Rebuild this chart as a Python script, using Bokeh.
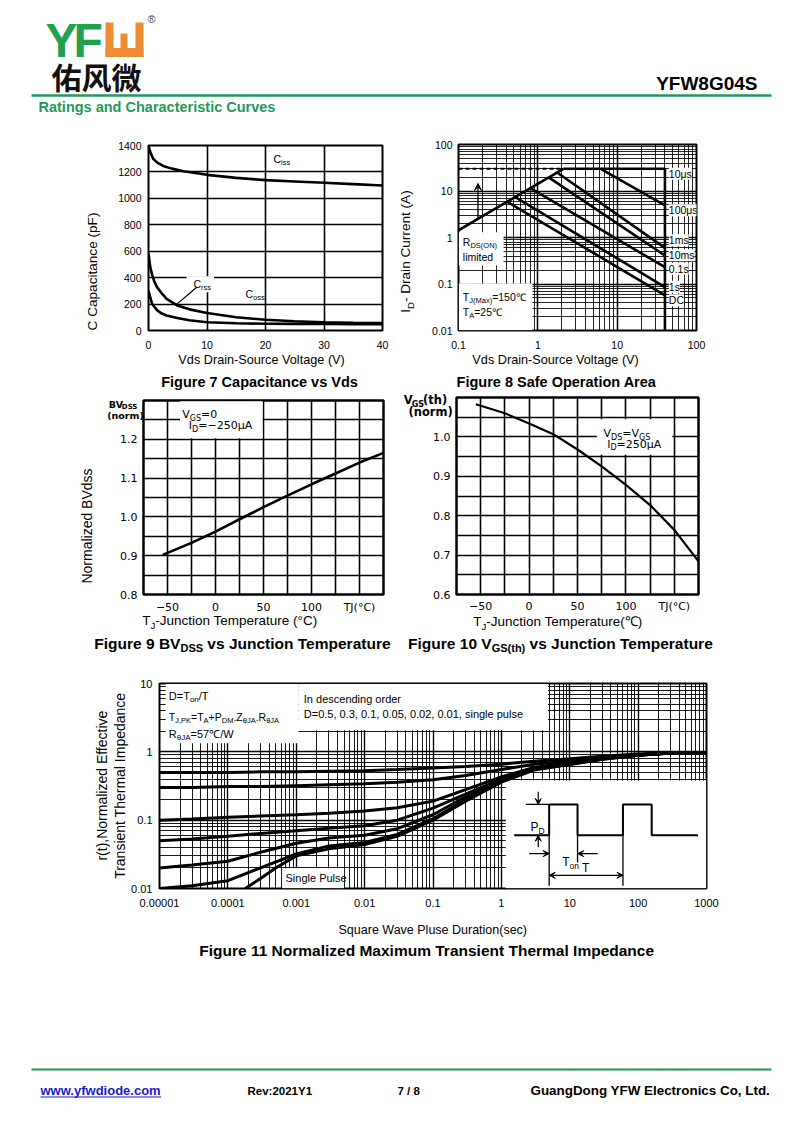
import math
from bokeh.plotting import figure
from bokeh.models import (Range1d, FixedTicker, CustomJSTickFormatter, Label, BoxAnnotation,
                          Arrow, VeeHead, GridBox, Column)
from bokeh.embed import file_html
from bokeh.resources import INLINE

# ---------------- data ----------------
# Figure 7 : capacitance vs Vds
cap_v = [0, 0.3, 0.8, 1.5, 2.5, 4, 6, 10, 15, 20, 25, 30, 35, 40]
ciss = [1400, 1350, 1300, 1270, 1245, 1225, 1205, 1178, 1155, 1138, 1128, 1118, 1108, 1097]
oss_v = [0, 0.3, 0.6, 1.0, 1.5, 2.2, 3.1, 4.9, 7, 10, 15, 20, 25, 30, 35, 40]
coss = [583, 480, 425, 370, 325, 285, 240, 190, 160, 132, 100, 81, 70, 63, 59, 56]
crss = [300, 250, 205, 180, 152, 130, 114, 94, 78, 63, 55, 51, 50, 50, 48, 47]
cap_xticks = [0, 10, 20, 30, 40]
cap_yticks = [0, 200, 400, 600, 800, 1000, 1200, 1400]

# Figure 8 : safe operating area
soa_xticks = [0.1, 1, 10, 100]
soa_yticks = [0.01, 0.1, 1, 10, 100]
id_max = 30
vds_max = 40
rds_v = [0.1, 2.1]
rds_i = [1.43, 30]
soa_v_start = [6.2, 1.75, 1.37, 0.805, 0.52, 0.41]
soa_i_start = [30, 25.0, 19.6, 11.5, 7.4, 5.9]
soa_i_end = [4.9, 0.6, 0.41, 0.23, 0.086, 0.057]
soa_labels = ["10\u03bcs", "100\u03bcs", "1ms", "10ms", "0.1s", "1s", "DC"]

# Figure 9 : BVdss vs Tj
temp_ticks = [-50, 0, 50, 100, 150]
temp_minor = [-75, -25, 25, 75, 125, 175]
bv_t = [-55, -25, 0, 25, 50, 75, 100, 125, 150, 175]
bv = [0.902, 0.933, 0.962, 0.994, 1.025, 1.055, 1.084, 1.112, 1.140, 1.165]
bv_ticks = [0.8, 0.9, 1.0, 1.1, 1.2]
bv_minor = [0.85, 0.95, 1.05, 1.15, 1.25, 1.3]

# Figure 10 : Vgs(th) vs Tj
vth_t = [-55, -25, 0, 25, 50, 75, 100, 125, 150, 175]
vth = [1.083, 1.060, 1.034, 1.007, 0.968, 0.925, 0.878, 0.827, 0.764, 0.684]
vth_ticks = [0.6, 0.7, 0.8, 0.9, 1.0]
vth_minor = [0.65, 0.75, 0.85, 0.95, 1.05, 1.1]

# Figure 11 : transient thermal impedance
zth_t = [1e-5, 3e-5, 1e-4, 3e-4, 1e-3, 3e-3, 1e-2, 3e-2, 0.1, 0.3, 1, 3, 10, 30, 100, 300, 1000]
zth_d50 = [0.50, 0.50, 0.50, 0.51, 0.51, 0.52, 0.53, 0.55, 0.58, 0.61, 0.66, 0.73, 0.79, 0.86, 0.93, 0.97, 0.98]
zth_d30 = [0.30, 0.30, 0.31, 0.31, 0.32, 0.33, 0.34, 0.36, 0.39, 0.45, 0.55, 0.66, 0.74, 0.83, 0.91, 0.96, 0.98]
zth_d10 = [0.100, 0.104, 0.110, 0.115, 0.120, 0.126, 0.136, 0.152, 0.190, 0.28, 0.43, 0.59, 0.70, 0.81, 0.90, 0.96, 0.98]
zth_d05 = [0.050, 0.053, 0.058, 0.064, 0.070, 0.076, 0.083, 0.100, 0.150, 0.24, 0.40, 0.57, 0.68, 0.80, 0.90, 0.96, 0.98]
zth_d02 = [0.020, 0.022, 0.025, 0.034, 0.046, 0.055, 0.060, 0.075, 0.120, 0.22, 0.38, 0.56, 0.67, 0.79, 0.89, 0.96, 0.98]
zth_d01 = [0.010, 0.011, 0.013, 0.020, 0.032, 0.042, 0.047, 0.062, 0.105, 0.20, 0.37, 0.55, 0.66, 0.78, 0.89, 0.96, 0.98]
zth_sp_t = [1.8e-4, 3e-4, 5e-4, 1e-3, 3e-3, 1e-2, 3e-2, 0.1, 0.3, 1, 3, 10, 30, 100, 300, 1000]
zth_sp = [0.010, 0.014, 0.020, 0.030, 0.038, 0.044, 0.058, 0.100, 0.19, 0.36, 0.54, 0.65, 0.78, 0.89, 0.96, 0.98]
zth_xticks = [1e-5, 1e-4, 1e-3, 1e-2, 0.1, 1, 10, 100, 1000]
zth_yticks = [0.01, 0.1, 1, 10]
# inset pulse sketch (in the chart's own t / r units)
pulse_t = [1.54, 5, 5, 13, 13, 60, 60, 158, 158, 750]
pulse_r = [0.06, 0.06, 0.17, 0.17, 0.06, 0.06, 0.17, 0.17, 0.06, 0.06]
mark_t0 = [5, 13, 60, 2.28]
mark_t1 = [5, 13, 60, 5]
mark_r0 = [0.06, 0.06, 0.06, 0.17]
mark_r1 = [0.011, 0.024, 0.011, 0.17]

GREEN = "#22995a"
LOGO_GREEN = "#1fa14d"
ORANGE = "#ee8c34"
SANS = "Liberation Sans"
DJV = "DejaVu Sans"

# ---------------- text width tables (per 1000 em) ----------------
AR = {' ': 278, '(': 333, ')': 333, ',': 278, '-': 333, '.': 278, '/': 278, ':': 278, '=': 584, '+': 584,
      '\u00b0': 400, '\u2103': 1000, '\u03bc': 576, '\u03b8': 556, '\u2212': 584,
      'A': 667, 'B': 667, 'C': 722, 'D': 722, 'E': 667, 'F': 611, 'G': 778, 'H': 722, 'I': 278, 'J': 500,
      'K': 667, 'L': 556, 'M': 833, 'N': 722, 'O': 778, 'P': 667, 'Q': 778, 'R': 722, 'S': 667, 'T': 611,
      'U': 722, 'V': 667, 'W': 944, 'X': 667, 'Y': 667, 'Z': 611,
      'a': 556, 'b': 556, 'c': 500, 'd': 556, 'e': 556, 'f': 278, 'g': 556, 'h': 556, 'i': 222, 'j': 222,
      'k': 500, 'l': 222, 'm': 833, 'n': 556, 'o': 556, 'p': 556, 'q': 556, 'r': 333, 's': 500, 't': 278,
      'u': 556, 'v': 500, 'w': 722, 'x': 500, 'y': 500, 'z': 500}
ARB = dict(AR)
ARB.update({':': 333, 'A': 722, 'B': 722, 'J': 556, 'K': 722, 'L': 611, 'b': 611, 'c': 556, 'd': 611,
            'f': 333, 'g': 611, 'h': 611, 'i': 278, 'j': 278, 'k': 556, 'l': 278, 'm': 889, 'n': 611,
            'o': 611, 'p': 611, 'q': 611, 'r': 389, 's': 556, 't': 333, 'u': 611, 'v': 556, 'w': 778,
            'x': 556, 'y': 556})
DJ = {' ': 318, '(': 390, ')': 390, '=': 838, '\u2212': 838, '-': 361, '.': 318, ',': 318, '\u00b0': 500,
      '\u03bc': 636, 'A': 684, 'C': 698, 'D': 770, 'G': 775, 'I': 295, 'J': 295, 'S': 635, 'T': 611,
      'V': 684, 'B': 686, 'a': 613, 'h': 634, 'm': 974, 'n': 634, 'o': 612, 'r': 411, 't': 392}
for _d in "0123456789":
    AR[_d] = 556
    ARB[_d] = 556
    DJ[_d] = 636


def tw(text, size, table):
    return sum(table.get(ch, 600) for ch in text) * size / 1000.0


def rich(p, fr, x, y, parts, table=AR, font=SANS, style="normal", color="black",
         align="left", vertical=False, bg=None, units="screen"):
    """Run of text segments (text, size, baseline shift) whose baseline starts at page point x, y."""
    widths = [tw(t, s, table) for t, s, d in parts]
    total = sum(widths)
    pos = {"left": 0.0, "center": -total / 2.0, "right": -total}[align]
    for (t, s, d), w in zip(parts, widths):
        lead = tw(t[:len(t) - len(t.lstrip(" "))], s, table)
        shown = t.strip(" ")
        mid = 0.36 * s
        if vertical:
            px, py = x - d - mid, y - pos - lead
        else:
            px, py = x + pos + lead, y - d - mid
        if units == "screen":
            sx, sy = px - fr[0], fr[3] - py
        else:
            sx, sy = px, py
        kw = dict(x=sx, y=sy, x_units=units, y_units=units, text=shown, text_font=font,
                  text_font_size=f"{s}px", text_font_style=style, text_color=color,
                  text_align="left", text_baseline="middle",
                  angle=(math.pi / 2 if vertical else 0.0))
        if bg:
            kw["background_fill_color"] = bg
        p.add_layout(Label(**kw))
        pos += w


def make_fig(fr, outer, xr, yr, xt="linear", yt="linear"):
    L, T, R, B = fr
    oL, oT, oR, oB = outer
    p = figure(width=oR - oL, height=oB - oT, x_range=xr, y_range=yr, x_axis_type=xt, y_axis_type=yt,
               output_backend="svg", toolbar_location=None, title=None,
               min_border_left=L - oL, min_border_right=oR - R, min_border_top=T - oT,
               min_border_bottom=oB - B)
    p.background_fill_color = "white"
    p.border_fill_alpha = 0.0
    p.outline_line_color = "black"
    p.outline_line_width = 2
    return p, (oT, 0, 0, oL)


def style_axes(p, font, size, xs, ys, xticker, yticker, major_w, minor_w, minor_alpha=1.0):
    p.xaxis.ticker = xticker
    p.yaxis.ticker = yticker
    p.xgrid.ticker = xticker
    p.ygrid.ticker = yticker
    for ax in p.axis:
        ax.axis_line_color = None
        ax.major_tick_line_color = None
        ax.minor_tick_line_color = None
        ax.major_tick_out = 0
        ax.major_tick_in = 0
        ax.minor_tick_out = 0
        ax.minor_tick_in = 0
        ax.major_label_text_font = font
        ax.major_label_text_font_size = size
        ax.major_label_text_color = "black"
    p.xaxis.major_label_standoff = xs
    p.yaxis.major_label_standoff = ys
    for g in (p.xgrid, p.ygrid):
        g.grid_line_color = "black"
        g.grid_line_width = major_w
        g.grid_line_alpha = 1.0
        g.minor_grid_line_color = "black"
        g.minor_grid_line_width = minor_w
        g.minor_grid_line_alpha = minor_alpha


def white_box(p, l, r, b, t):
    p.add_layout(BoxAnnotation(left=l, right=r, bottom=b, top=t, fill_color="white", fill_alpha=1.0,
                               line_color=None, level="underlay"))


def log_minor(k0, k1):
    return [m * 10.0 ** k for k in range(k0, k1) for m in range(2, 10)]


JS_STR = CustomJSTickFormatter(code="return tick.toString();")

# ---------------- page sheet (header, footer, captions, axis titles) ----------------
pg = figure(width=800, height=1120, x_range=Range1d(0, 800), y_range=Range1d(1120, 0),
            x_axis_type=None, y_axis_type=None, toolbar_location=None, output_backend="svg",
            min_border=0, title=None)
pg.outline_line_color = None
pg.background_fill_color = "white"
pg.border_fill_color = "white"


def ptext(x, y, parts, **kw):
    rich(pg, None, x, y, parts, units="data", **kw)


# header
ptext(45, 57, [("Y", 48, 0)], table=ARB, style="bold", color=LOGO_GREEN)
ptext(73, 57, [("F", 48, 0)], table=ARB, style="bold", color=LOGO_GREEN)
pg.quad(left=[105, 135, 105, 120], right=[113, 143, 143, 127], top=[22, 22, 47.5, 33],
        bottom=[56.5, 56.5, 56.5, 56.5], fill_color=ORANGE, line_color=None)
ptext(51, 86, [("\u4f51\u98ce\u5fae", 30, 0)], font="Noto Sans CJK SC", style="bold", color="#111111")
ptext(147, 22, [("\u00ae", 11, 0)], color="#444444")
ptext(757, 90, [("YFW8G04S", 19, 0)], table=ARB, style="bold", align="right")
pg.segment(x0=[31], y0=[95], x1=[771], y1=[95], line_color=GREEN, line_width=2.5)
ptext(38, 112, [("Ratings and Characteristic Curves", 14.5, 0)], table=ARB, style="bold", color=GREEN)

# figure 7 texts outside the plot area
ptext(261.5, 364.5, [("Vds Drain-Source Voltage (V)", 12.7, 0)], align="center")
ptext(96.5, 271, [("C Capacitance (pF)", 13.6, 0)], align="center", vertical=True)
ptext(259, 387, [("Figure 7 Capacitance vs Vds", 14.5, 0)], table=ARB, style="bold", align="center")
# figure 8
ptext(555.5, 364.5, [("Vds Drain-Source Voltage (V)", 12.7, 0)], align="center")
ptext(410, 251, [("I", 13.6, 0), ("D", 9.5, -3), ("- Drain Current (A)", 13.6, 0)],
      align="center", vertical=True)
ptext(556, 387, [("Figure 8 Safe Operation Area", 14.5, 0)], table=ARB, style="bold", align="center")
# figure 9
ptext(108.3, 407.5, [("BV", 9.5, 0), ("DSS", 7, -2)], table=DJ, font=DJV, style="bold")
ptext(106.7, 418.5, [("(norm)", 9.5, 0)], table=DJ, font=DJV, style="bold")
ptext(92, 525.5, [("Normalized BVdss", 14, 0)], align="center", vertical=True)
ptext(141.7, 625, [("T", 13.5, 0), ("J", 9.5, -3), ("-Junction Temperature (\u00b0C)", 13.5, 0)])
ptext(242.5, 649, [("Figure 9 BV", 15.5, 0), ("DSS", 11, -2.5), (" vs Junction Temperature", 15.5, 0)],
      table=ARB, style="bold", align="center")
# figure 10
ptext(403.3, 404, [("V", 11.5, 0), ("GS", 8, -2.5), ("(th)", 11.5, 0)], table=DJ, font=DJV, style="bold")
ptext(408, 415.5, [("(norm)", 11.5, 0)], table=DJ, font=DJV, style="bold")
ptext(472.7, 626, [("T", 13.5, 0), ("J", 9.5, -3), ("-Junction Temperature(\u2103)", 13.5, 0)])
ptext(560.5, 649, [("Figure 10 V", 15.5, 0), ("GS(th)", 11, -2.5), (" vs Junction Temperature", 15.5, 0)],
      table=ARB, style="bold", align="center")
# figure 11
ptext(432.5, 934, [("Square Wave Pluse Duration(sec)", 12.5, 0)], align="center")
ptext(107, 785, [("r(t),Normalized Effective", 14, 0)], align="center", vertical=True)
ptext(125, 785, [("Transient Thermal Impedance", 14, 0)], align="center", vertical=True)
ptext(427, 956, [("Figure 11 Normalized Maximum Transient Thermal Impedance", 15.5, 0)],
      table=ARB, style="bold", align="center")

# footer
pg.segment(x0=[31], y0=[1069], x1=[771], y1=[1069], line_color=GREEN, line_width=2.2)
url = "www.yfwdiode.com"
ptext(40, 1094.5, [(url, 13, 0)], table=ARB, style="bold", color="#1a1acc")
pg.segment(x0=[40], y0=[1096.5], x1=[40 + tw(url, 13, ARB)], y1=[1096.5], line_color="#1a1acc", line_width=1)
ptext(247, 1094.5, [("Rev:2021Y1", 11.5, 0)], table=ARB, style="bold")
ptext(397, 1094.5, [("7 / 8", 11.5, 0)], table=ARB, style="bold")
ptext(530, 1094.5, [("GuangDong YFW Electronics Co, Ltd.", 13.4, 0)], table=ARB, style="bold")

# ---------------- Figure 7 ----------------
FR7 = (148, 145, 382, 330)
f7, m7 = make_fig(FR7, (100, 135, 392, 360), Range1d(0, 40), Range1d(0, 1400))
style_axes(f7, SANS, "10.5px", 10, 7, FixedTicker(ticks=cap_xticks), FixedTicker(ticks=cap_yticks), 1.6, 1)
white_box(f7, 6.5, 11.2, 290, 410)
f7.line(cap_v, ciss, line_color="black", line_width=2.6)
f7.line(oss_v, coss, line_color="black", line_width=2.6)
f7.line(oss_v, crss, line_color="black", line_width=2.6)
f7.segment(x0=[8.3], y0=[329], x1=[4.6], y1=[190], line_color="black", line_width=1.2)
rich(f7, FR7, 273, 162, [("C", 10.5, 0), ("iss", 7.5, -2.5)])
rich(f7, FR7, 245, 297, [("C", 10.5, 0), ("oss", 7.5, -2.5)])
rich(f7, FR7, 193, 287, [("C", 10.5, 0), ("rss", 7.5, -2.5)])

# ---------------- Figure 8 ----------------
FR8 = (458, 144, 696, 330)
f8, m8 = make_fig(FR8, (420, 135, 712, 360), Range1d(0.1, 100), Range1d(0.01, 100), "log", "log")
style_axes(f8, SANS, "10.5px", 10, 6, FixedTicker(ticks=soa_xticks, minor_ticks=log_minor(-1, 2)),
           FixedTicker(ticks=soa_yticks, minor_ticks=log_minor(-2, 2)), 1.5, 1, 0.85)
f8.xaxis.formatter = JS_STR
f8.yaxis.formatter = JS_STR
white_box(f8, 0.101, 0.37, 0.25, 1.29)
white_box(f8, 0.101, 0.857, 0.0101, 0.103)
f8.line([0.1, rds_v[1]], [id_max, id_max], line_color="black", line_width=2, line_dash="4 3")
f8.line([rds_v[1], vds_max, vds_max], [id_max, id_max, 0.01], line_color="black", line_width=2.6)
f8.line(rds_v, rds_i, line_color="black", line_width=2.6)
f8.segment(x0=soa_v_start, y0=soa_i_start, x1=[vds_max] * len(soa_v_start), y1=soa_i_end,
           line_color="black", line_width=2.6)
f8.add_layout(Arrow(end=VeeHead(size=7, fill_color="black", line_color="black"), start=None,
                    x_start=0.176, y_start=2.6, x_end=0.176, y_end=14.5, line_width=1.3))
for lab, yb in zip(soa_labels, [177, 213.5, 243.5, 258.5, 272, 290, 303.5]):
    rich(f8, FR8, 668.3, yb, [(lab, 10.5, 0)], bg="white")
rich(f8, FR8, 462.3, 245.5, [("R", 10.5, 0), ("DS(ON)", 7.5, -2.5)])
rich(f8, FR8, 462.3, 260.5, [("limited", 10.5, 0)])
rich(f8, FR8, 462.3, 300, [("T", 10.5, 0), ("J(Max)", 7.5, -2.5), ("=150\u2103", 10.5, 0)])
rich(f8, FR8, 462.3, 315.5, [("T", 10.5, 0), ("A", 7.5, -2.5), ("=25\u2103", 10.5, 0)])

# ---------------- Figure 9 ----------------
TEMP_FMT = CustomJSTickFormatter(code="if (tick == 150) { return 'TJ(\u00b0C)'; } "
                                      "return tick < 0 ? '\u2212' + (-tick) : '' + tick;")
ONE_DEC = CustomJSTickFormatter(code="return tick.toFixed(1);")
FR9 = (143, 400, 383, 594)
f9, m9 = make_fig(FR9, (105, 392, 400, 620), Range1d(-75, 175), Range1d(0.8, 1.3))
style_axes(f9, DJV, "11px", 6, 6, FixedTicker(ticks=temp_ticks, minor_ticks=temp_minor),
           FixedTicker(ticks=bv_ticks, minor_ticks=bv_minor), 1.6, 1.6)
f9.xaxis.formatter = TEMP_FMT
f9.yaxis.formatter = ONE_DEC
f9.outline_line_width = 2.5
white_box(f9, -37, 49, 1.203, 1.298)
f9.line(bv_t, bv, line_color="black", line_width=2.6)
rich(f9, FR9, 181.7, 418, [("V", 11, 0), ("GS", 8, -2.5), ("=0", 11, 0)], table=DJ, font=DJV)
rich(f9, FR9, 188.3, 429, [("I", 11, 0), ("D", 8, -2.5), ("=\u2212250\u03bcA", 11, 0)], table=DJ, font=DJV)

# ---------------- Figure 10 ----------------
FR10 = (456, 397, 698, 594)
f10, m10 = make_fig(FR10, (420, 392, 712, 620), Range1d(-75, 175), Range1d(0.6, 1.1))
style_axes(f10, DJV, "11px", 5, 6, FixedTicker(ticks=temp_ticks, minor_ticks=temp_minor),
           FixedTicker(ticks=vth_ticks, minor_ticks=vth_minor), 1.6, 1.6)
f10.xaxis.formatter = TEMP_FMT
f10.yaxis.formatter = ONE_DEC
f10.outline_line_width = 2.5
white_box(f10, 70, 148, 0.955, 1.045)
f10.line(vth_t, vth, line_color="black", line_width=2.2)
rich(f10, FR10, 603, 437, [("V", 11, 0), ("DS", 8, -2.5), ("=V", 11, 0), ("GS", 8, -2.5)], table=DJ, font=DJV)
rich(f10, FR10, 606.7, 447.5, [("I", 11, 0), ("D", 8, -2.5), ("=250\u03bcA", 11, 0)], table=DJ, font=DJV)

# ---------------- Figure 11 ----------------
FR11 = (159, 683, 706, 888)
f11, m11 = make_fig(FR11, (125, 660, 722, 918), Range1d(1e-5, 1000), Range1d(0.01, 10), "log", "log")
style_axes(f11, SANS, "11px", 10, 7, FixedTicker(ticks=zth_xticks, minor_ticks=log_minor(-5, 3)),
           FixedTicker(ticks=zth_yticks, minor_ticks=log_minor(-2, 1)), 1.4, 1, 0.9)
f11.xaxis.formatter = JS_STR
f11.yaxis.formatter = JS_STR
white_box(f11, 1.23e-5, 1.08e-3, 1.34, 9.8)
white_box(f11, 1.08e-3, 4.8, 2.07, 9.8)
white_box(f11, 6.25e-4, 5e-3, 0.0101, 0.0198)
white_box(f11, 1.16, 990, 0.0101, 0.38)
for series in (zth_d50, zth_d30, zth_d10, zth_d05, zth_d02, zth_d01):
    f11.line(zth_t, series, line_color="black", line_width=3)
f11.line(zth_sp_t, zth_sp, line_color="black", line_width=3)
f11.line(pulse_t, pulse_r, line_color="black", line_width=2)
f11.segment(x0=mark_t0, y0=mark_r0, x1=mark_t1, y1=mark_r1, line_color="black", line_width=1.3)
head = dict(size=6, fill_color="black", line_color="black")
f11.add_layout(Arrow(end=VeeHead(**head), start=None, x_start=3.46, y_start=0.26, x_end=3.46, y_end=0.17,
                     line_width=1.2))
f11.add_layout(Arrow(end=VeeHead(**head), start=None, x_start=3.46, y_start=0.04, x_end=3.46, y_end=0.06,
                     line_width=1.2))
f11.add_layout(Arrow(end=VeeHead(**head), start=None, x_start=2.55, y_start=0.0324, x_end=5, y_end=0.0324,
                     line_width=1.2))
f11.add_layout(Arrow(end=VeeHead(**head), start=None, x_start=25.6, y_start=0.0324, x_end=13.1, y_end=0.0324,
                     line_width=1.2))
f11.add_layout(Arrow(end=VeeHead(**head), start=VeeHead(**head), x_start=5, y_start=0.0156, x_end=60,
                     y_end=0.0156, line_width=1.2))
rich(f11, FR11, 168.3, 699, [("D=T", 11, 0), ("on", 8, -2.5), ("/T", 11, 0)])
rich(f11, FR11, 168.3, 720.5, [("T", 10.5, 0), ("J,PK", 7.5, -2.5), ("=T", 10.5, 0), ("A", 7.5, -2.5),
                               ("+P", 10.5, 0), ("DM", 7.5, -2.5), (".Z", 10.5, 0), ("\u03b8JA", 7.5, -2.5),
                               (".R", 10.5, 0), ("\u03b8JA", 7.5, -2.5)])
rich(f11, FR11, 168.3, 737, [("R", 11, 0), ("\u03b8JA", 8, -2.5), ("=57\u2103/W", 11, 0)])
rich(f11, FR11, 303.3, 702, [("In descending order", 11, 0)])
rich(f11, FR11, 303.3, 717.5, [("D=0.5, 0.3, 0.1, 0.05, 0.02, 0.01, single pulse", 11, 0)])
rich(f11, FR11, 285, 881.5, [("Single Pulse", 11, 0)])
rich(f11, FR11, 530, 831, [("P", 12, 0), ("D", 8.5, -2.5)])
rich(f11, FR11, 561.7, 866, [("T", 12, 0), ("on", 8.5, -2.5)])
rich(f11, FR11, 581.5, 872, [("T", 12, 0)])

kids = [(pg, 0, 0)]
for fig, mg in ((f7, m7), (f8, m8), (f9, m9), (f10, m10), (f11, m11)):
    kids.append((Column(children=[fig], margin=mg), 0, 0))
page = GridBox(children=kids)

open("out.html", "w").write(file_html(page, INLINE, title="YFW8G04S curves"))
